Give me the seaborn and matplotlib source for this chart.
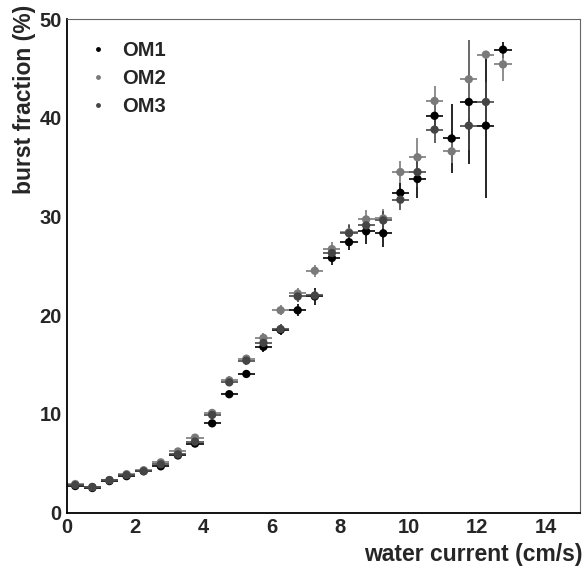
import numpy as np
import pandas as pd
import matplotlib
matplotlib.use("Agg")
import matplotlib.pyplot as plt
import seaborn as sns
from matplotlib.lines import Line2D
from matplotlib.ticker import MultipleLocator

# ---- data ----
current = [0.25, 0.75, 1.25, 1.75, 2.25, 2.75, 3.25, 3.75, 4.25, 4.75, 5.25, 5.75, 6.25,
           6.75, 7.25, 7.75, 8.25, 8.75, 9.25, 9.75, 10.25, 10.75, 11.25, 11.75, 12.25, 12.75]
current_halfbin = 0.25

om1 = [2.7, 2.5, 3.2, 3.7, 4.2, 4.7, 5.8, 7.0, 9.05, 12.0, 14.05, 16.8, 18.5,
       20.5, 21.9, 25.8, 27.4, 28.5, 28.3, 32.4, 33.8, 40.2, 37.9, 41.6, 39.2, 46.9]
om1_err = [0.2, 0.15, 0.15, 0.2, 0.2, 0.25, 0.3, 0.3, 0.35, 0.35, 0.4, 0.5, 0.5,
           0.6, 0.9, 0.7, 0.8, 1.3, 1.4, 1.0, 1.9, 1.4, 3.5, 6.3, 7.3, 0.8]

om2 = [2.9, 2.6, 3.3, 3.9, 4.3, 5.1, 6.2, 7.6, 10.1, 13.4, 15.6, 17.7, 20.5,
       22.2, 24.5, 26.7, 28.4, 29.7, 29.8, 34.5, 36.0, 41.7, 36.6, 43.9, 46.4, 45.4]
om2_err = [0.15, 0.15, 0.15, 0.2, 0.2, 0.25, 0.3, 0.35, 0.35, 0.4, 0.4, 0.5, 0.5,
           0.6, 0.6, 0.7, 0.8, 1.0, 1.0, 1.1, 2.0, 1.5, 1.2, 4.0, 0.4, 1.7]

om3 = [2.8, 2.6, 3.3, 3.8, 4.2, 4.9, 5.9, 7.2, 9.9, 13.2, 15.4, 17.2, 18.6,
       21.9, 22.0, 26.3, 28.3, 29.1, 29.6, 31.7, 34.5, 38.8, np.nan, 39.2, 41.6, np.nan]
om3_err = [0.15, 0.15, 0.15, 0.2, 0.2, 0.25, 0.3, 0.35, 0.35, 0.4, 0.4, 0.5, 0.5,
           0.6, 0.6, 0.7, 0.8, 1.0, 1.0, 1.0, 1.5, 1.4, np.nan, 2.5, 2.0, np.nan]

series_names = ["OM1", "OM2", "OM3"]
colors = {"OM1": "#000000", "OM2": "#7a7a7a", "OM3": "#454545"}

frames = []
for name, vals, errs in [("OM1", om1, om1_err), ("OM2", om2, om2_err), ("OM3", om3, om3_err)]:
    frames.append(pd.DataFrame({"current": current, "burst": vals, "err": errs, "module": name}))
df = pd.concat(frames, ignore_index=True).dropna()

# ---- figure ----
sns.set_style("white")
plt.rcParams["font.family"] = ["Liberation Sans", "DejaVu Sans"]
plt.rcParams["font.weight"] = "bold"

fig = plt.figure(figsize=(5.83, 5.68), dpi=100)
ax = fig.add_axes([0.1144, 0.0974, 0.8805, 0.8691])

for name in series_names:
    sub = df[df["module"] == name]
    ax.errorbar(sub["current"], sub["burst"], xerr=current_halfbin, yerr=sub["err"],
                fmt="none", ecolor=colors[name], elinewidth=1.2, capsize=0, zorder=2)

sns.scatterplot(data=df, x="current", y="burst", hue="module", palette=colors,
                hue_order=series_names, s=36, edgecolor="none", legend=False, ax=ax, zorder=3)

ax.set_xlim(0, 15)
ax.set_ylim(0, 50)
ax.xaxis.set_major_locator(MultipleLocator(2))
ax.xaxis.set_minor_locator(MultipleLocator(0.5))
ax.yaxis.set_major_locator(MultipleLocator(10))
ax.yaxis.set_minor_locator(MultipleLocator(2))
ax.tick_params(which="both", direction="in", top=False, right=False, color="black",
               labelsize=14.5, pad=3.5)
ax.tick_params(which="major", length=11.5, width=1.0)
ax.tick_params(which="minor", length=5.5, width=1.0)
for lab in ax.get_xticklabels() + ax.get_yticklabels():
    lab.set_fontweight("bold")

for side in ["left", "bottom"]:
    ax.spines[side].set_linewidth(1.3)
    ax.spines[side].set_color("black")
for side in ["top", "right"]:
    ax.spines[side].set_linewidth(0.8)
    ax.spines[side].set_color("#666666")

ax.set_xlabel("water current (cm/s)", fontsize=16.5, fontweight="bold", loc="right")
ax.set_ylabel("burst fraction (%)", fontsize=16.5, fontweight="bold", loc="top")
ax.xaxis.set_label_coords(1.004, -0.062)
ax.xaxis.label.set_horizontalalignment("right")
ax.xaxis.label.set_verticalalignment("top")
ax.yaxis.set_label_coords(-0.06, 1.028)
ax.yaxis.label.set_horizontalalignment("right")

handles = [Line2D([], [], linestyle="none", marker="o", markersize=3.5,
                  markerfacecolor=colors[n], markeredgecolor="none") for n in series_names]
ax.legend(handles, series_names, loc="upper left", bbox_to_anchor=(0.026, 0.972),
          borderaxespad=0.0, frameon=False,
          prop={"size": 14.5, "weight": "bold"}, handlelength=1.0, handletextpad=0.7,
          labelspacing=0.45)

fig.savefig("out.png", dpi=100)
